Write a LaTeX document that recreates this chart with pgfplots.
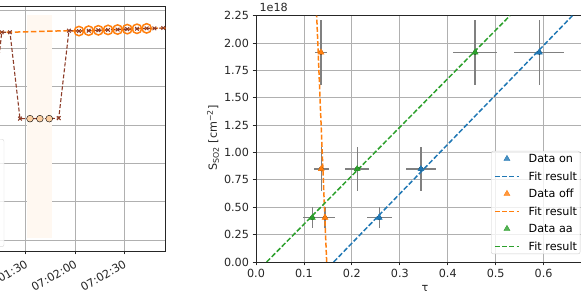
\documentclass[border=0pt]{standalone}
\usepackage{fontspec}
\setmainfont{DejaVu Sans}
\usepackage{pgfplots}
\pgfplotsset{compat=1.18}

\definecolor{cOn}{HTML}{1F77B4}
\definecolor{cOff}{HTML}{FF7F0E}
\definecolor{cAa}{HTML}{2CA02C}
\definecolor{cBrown}{RGB}{140,60,40}
\definecolor{cPeach}{RGB}{253,208,162}
\definecolor{cBand}{RGB}{255,248,241}
\definecolor{cGrid}{RGB}{176,176,176}
\definecolor{cText}{RGB}{38,38,38}
\definecolor{cErr}{RGB}{128,128,128}

\newcommand\chartfont{\fontsize{11.2}{13}\selectfont}

\pgfplotsset{
  panel/.style={
    scale only axis,
    axis line style={cText, line width=0.8pt},
    tick align=outside, tick pos=left,
    major tick length=3.5pt,
    every tick/.style={cText, line width=0.8pt},
    grid=major,
    major grid style={cGrid, line width=0.8pt},
    tick label style={font=\chartfont, text=cText},
    /pgf/number format/assume math mode=true,
  },
}

% time series: seconds after 07:00:00
\pgfplotstableread{
t     v
63.6  5.42
69.5  3.165
75.4  5.42
80.4  5.42
86.5  3.165
92.6  3.165
98.6  3.165
104.3 3.165
110.1 3.18
116.3 5.46
122.4 5.45
128.3 5.46
134.2 5.47
140.1 5.48
145.9 5.49
151.8 5.50
157.7 5.51
163.6 5.52
168.3 5.52
173.7 5.53
179.6 5.53
}\allpts
\pgfplotstableread{
t     v
63.6  5.42
75.4  5.42
80.4  5.42
116.3 5.46
122.4 5.45
128.3 5.46
134.2 5.47
140.1 5.48
145.9 5.49
151.8 5.50
157.7 5.51
163.6 5.52
168.3 5.52
173.7 5.53
179.6 5.53
}\onpts
\pgfplotstableread{
t     v
92.6  3.165
98.6  3.165
104.3 3.165
}\offpts
\pgfplotstableread{
t     v
122.4 5.45
128.3 5.46
134.2 5.47
140.1 5.48
145.9 5.49
151.8 5.50
157.7 5.51
163.6 5.52
}\aapts

\begin{document}
\begin{tikzpicture}[font=\chartfont]
\useasboundingbox (0pt,0pt) rectangle (581pt,296pt);
\begin{scope}[overlay]
\clip (0pt,0pt) rectangle (581pt,296pt);

% ---------------- left panel ----------------
\begin{axis}[panel,
  at={(165.7pt,45pt)}, anchor=south east,
  width=222.1pt, height=245pt,
  xmin=40, xmax=175.2, ymin=-0.287, ymax=6.104,
  xtick={60,90,120,150},
  xticklabels={07:01:00,07:01:30,07:02:00,07:02:30},
  xticklabel style={rotate=30, anchor=north east},
  ytick={0,1,2,3,4,5,6}, yticklabels={},
]
\addplot[fill=cBand, draw=none, forget plot]
  coordinates {(91,0.044) (91,5.87) (105.9,5.87) (105.9,0.044)} -- cycle;
\addplot[cOff, line width=1.5pt, dash pattern=on 5.5pt off 2.6pt]
  table[x=t, y=v] {\onpts};
\addplot[cBrown, line width=1.1pt, dash pattern=on 4pt off 2pt,
  mark=x, mark size=2.6pt, mark options={solid, line width=1pt}]
  table[x=t, y=v] {\allpts};
\addplot[only marks, mark=*, mark size=3.4pt,
  mark options={draw=none, fill=cPeach}]
  table[x=t, y=v] {\offpts};
\addplot[only marks, mark=o, mark size=4.7pt,
  mark options={draw=cOff, line width=1.5pt}]
  table[x=t, y=v] {\aapts};
\end{axis}
\draw[black!15, fill=white, fill opacity=0.8, rounded corners=2pt]
  (-40pt,49.3pt) rectangle (4pt,156.7pt);

% ---------------- right panel ----------------
\begin{axis}[panel,
  at={(256pt,34pt)}, anchor=south west,
  width=335.6pt, height=246.3pt,
  xmin=0, xmax=0.7, ymin=0, ymax=2.25,
  xtick={0,0.1,0.2,0.3,0.4,0.5,0.6,0.7},
  ytick={0,0.25,0.5,0.75,1,1.25,1.5,1.75,2,2.25},
  xticklabel style={/pgf/number format/.cd, fixed, fixed zerofill, precision=1},
  yticklabel style={/pgf/number format/.cd, fixed, fixed zerofill, precision=2},
  legend image code/.code={%
    \draw[mark repeat=2, mark phase=2, #1]
      plot coordinates {(0pt,0pt) (12pt,0pt) (24pt,0pt)};},
  legend cell align=left,
  legend style={at={(0.7003,0.4507)}, anchor=north west,
    draw=black!20, rounded corners=2pt, fill=white, fill opacity=0.8,
    text opacity=1, draw opacity=1,
    inner xsep=3pt, inner ysep=3.5pt, row sep=9.3pt, column sep=9pt,
    font=\chartfont,
    nodes={inner sep=0pt, text height=8.2pt, text depth=0pt}},
  fitline/.style={draw=#1, line width=1.5pt, dash pattern=on 5pt off 2.2pt},
  errs/.style={only marks, mark=none, forget plot,
    error bars/.cd, x dir=both, x explicit, y dir=both, y explicit,
    error mark=none, error bar style={draw=cErr, line width=1.3pt}},
  pts/.style={only marks, mark=triangle*, mark size=3.5pt,
    mark options={draw=#1, fill=#1}},
]
% measurement uncertainties
\addplot[errs] coordinates {
  (0.257,0.405) +- (0.026,0.096)
  (0.344,0.850) +- (0.032,0.200)
  (0.591,1.915) +- (0.052,0.300)
  (0.1356,1.915) +- (0.013,0.300)
  (0.136,0.850) +- (0.016,0.200)
  (0.144,0.405) +- (0.020,0.096)
  (0.1175,0.405) +- (0.020,0.096)
  (0.211,0.850) +- (0.025,0.200)
  (0.457,1.915) +- (0.046,0.300)
};
\addplot[pts=cOn] coordinates {(0.257,0.405) (0.344,0.850) (0.591,1.915)};
\addlegendentry{Data on}
\addplot[fitline=cOn] coordinates {(0.162,0) (0.660,2.25)};
\addlegendentry{Fit result}
\addplot[pts=cOff] coordinates {(0.1356,1.915) (0.136,0.850) (0.144,0.405)};
\addlegendentry{Data off}
\addplot[fitline=cOff] coordinates {(0.1474,0) (0.1266,2.25)};
\addlegendentry{Fit result}
\addplot[pts=cAa] coordinates {(0.1175,0.405) (0.211,0.850) (0.457,1.915)};
\addlegendentry{Data aa}
\addplot[fitline=cAa] coordinates {(0.0222,0) (0.5297,2.25)};
\addlegendentry{Fit result}
\end{axis}

\node[anchor=base west, text=cText] at (256pt,284pt) {1e18};
\node[rotate=90, text=cText] at (213pt,158pt)
  {S\textsubscript{SO2} [cm\textsuperscript{−2}]};
\node[anchor=base, text=cText] at (425pt,4.5pt) {τ};
\end{scope}
\end{tikzpicture}
\end{document}
